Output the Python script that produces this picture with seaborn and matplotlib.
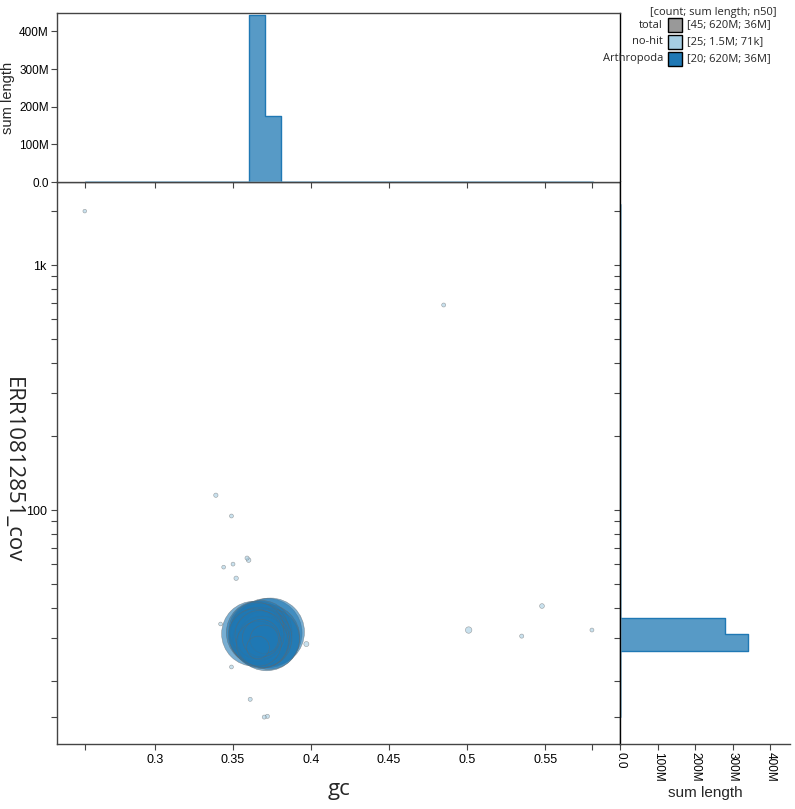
import numpy as np
import pandas as pd
import seaborn as sns
import matplotlib.pyplot as plt
from matplotlib.ticker import FixedLocator, FixedFormatter, NullLocator
from matplotlib.patches import Rectangle

# contigs: gc, coverage, length (bp)
arth_gc = [0.372, 0.374, 0.3715, 0.3635, 0.366, 0.368, 0.373, 0.367, 0.367,
           0.369, 0.366, 0.368, 0.365, 0.364, 0.369, 0.367, 0.3665, 0.368, 0.370, 0.366]
arth_cov = [31.5, 31.8, 30.2, 31.3, 31.6, 32.0, 29.8, 31.4, 30.4,
            30.0, 30.6, 29.5, 32.5, 30.8, 29.0, 30.9, 28.5, 30.0, 29.7, 27.5]
arth_len = [48e6, 46e6, 44e6, 42e6, 40e6, 38e6, 37e6, 36e6, 35e6,
            34e6, 33e6, 32e6, 30e6, 28e6, 26e6, 24e6, 20e6, 14e6, 8e6, 5e6]

nohit_gc = [0.255, 0.485, 0.339, 0.349, 0.359, 0.360, 0.344, 0.350, 0.352, 0.342,
            0.349, 0.397, 0.361, 0.370, 0.372, 0.501, 0.535, 0.548, 0.580,
            0.366, 0.368, 0.365, 0.369, 0.367, 0.366]
nohit_cov = [1660, 687, 115, 94.6, 63.7, 62.5, 58.5, 60.2, 52.7, 34.3,
             22.9, 28.4, 16.9, 14.3, 14.4, 32.4, 30.6, 40.6, 32.4,
             30.5, 30.0, 31.0, 29.5, 30.2, 30.8]
nohit_len = [20e3, 45e3, 71e3, 40e3, 58e3, 95e3, 30e3, 38e3, 80e3, 27e3,
             35e3, 140e3, 52e3, 48e3, 62e3, 300e3, 55e3, 110e3, 42e3,
             68e3, 32e3, 24e3, 15e3, 10e3, 3e3]

gc_ticks = [0.3, 0.35, 0.4, 0.45, 0.5, 0.55]
cov_ticks = [20, 30, 40, 50, 60, 70, 80, 90, 100, 200, 300, 400, 500, 600, 700, 800, 900, 1000]
cov_labels = {100: "100", 1000: "1k"}
len_ticks = [0, 100e6, 200e6, 300e6, 400e6]
len_labels = ["0.0", "100M", "200M", "300M", "400M"]

legend_names = ["total", "no-hit", "Arthropoda"]
legend_stats = ["[45; 620M; 36M]", "[25; 1.5M; 71k]", "[20; 620M; 36M]"]
legend_colors = ["#999999", "#a6cee3", "#1f78b4"]

pal = {"no-hit": "#a6cee3", "Arthropoda": "#1f78b4"}

df = pd.concat([
    pd.DataFrame({"gc": nohit_gc, "cov": nohit_cov, "length": nohit_len, "taxon": "no-hit"}),
    pd.DataFrame({"gc": arth_gc, "cov": arth_cov, "length": arth_len, "taxon": "Arthropoda"}),
], ignore_index=True)

sns.set_style("white")
plt.rcParams["font.family"] = ["Liberation Sans", "DejaVu Sans"]

fig = plt.figure(figsize=(7.95, 8.09), dpi=100)
ax = fig.add_axes([0.0717, 0.0803, 0.7082, 0.6947])
ax_top = fig.add_axes([0.0717, 0.775, 0.7082, 0.2089], sharex=ax)
ax_right = fig.add_axes([0.780, 0.0803, 0.2137, 0.6947], sharey=ax)

# blob scatter, circle area by length
ax.set_yscale("log")
for name in ["no-hit", "Arthropoda"]:
    sub = df[df.taxon == name].sort_values("length", ascending=False)
    sns.scatterplot(data=sub, x="gc", y="cov", size="length", sizes=(6, 2500),
                    size_norm=(0, 48e6), color=pal[name], alpha=0.6,
                    edgecolor="#666666", linewidth=0.4, legend=False, ax=ax)

# histograms of summed length
gc_edges = list(0.255 + 0.0105 * np.arange(32))
cov_edges = list(1.155 + 0.0675 * np.arange(32))  # log10 space
sns.histplot(data=df, x="gc", weights="length", hue="taxon", hue_order=["no-hit", "Arthropoda"],
             palette=pal, bins=gc_edges, element="step", multiple="layer", alpha=0.75,
             linewidth=1, legend=False, ax=ax_top)
sns.histplot(data=df, y="cov", weights="length", hue="taxon", hue_order=["no-hit", "Arthropoda"],
             palette=pal, bins=cov_edges, log_scale=(False, True), element="step",
             multiple="layer", alpha=0.75, linewidth=1, legend=False, ax=ax_right)

ax.set_xlim(0.2372, 0.598)
ax.set_ylim(11.1, 2182)
ax_top.set_ylim(0, 449e6)
ax_right.set_xlim(0, 452e6)

# ticks (outer ticks at data range, unlabelled)
xt = [df.gc.min()] + gc_ticks + [df.gc.max()]
ax.xaxis.set_major_locator(FixedLocator(xt))
ax.xaxis.set_major_formatter(FixedFormatter([""] + [f"{t:g}" for t in gc_ticks] + [""]))
yt = [df["cov"].min()] + cov_ticks + [df["cov"].max()]
ax.yaxis.set_major_locator(FixedLocator(yt))
ax.yaxis.set_major_formatter(FixedFormatter([cov_labels.get(t, "") for t in yt]))
ax.yaxis.set_minor_locator(NullLocator())
ax.xaxis.set_minor_locator(NullLocator())

ax_top.yaxis.set_major_locator(FixedLocator(len_ticks))
ax_top.yaxis.set_major_formatter(FixedFormatter(len_labels))
ax_right.xaxis.set_major_locator(FixedLocator(len_ticks))
ax_right.xaxis.set_major_formatter(FixedFormatter(len_labels))

for a in (ax, ax_top, ax_right):
    a.tick_params(direction="out", length=4, width=0.8, color="#444444",
                  labelsize=9, labelcolor="black", bottom=True, left=True)
    for s in a.spines.values():
        s.set_color("#444444")
        s.set_linewidth(1)
ax_top.tick_params(labelbottom=False)
ax_top.tick_params(axis="y", labelsize=8.5, pad=2)
ax_right.tick_params(labelleft=False)
ax_right.tick_params(axis="x", labelrotation=-90, pad=1.5, labelsize=8.5)
ax_right.spines["top"].set_visible(False)
ax_right.spines["right"].set_visible(False)
ax_right.spines["left"].set_color("black")
ax_top.spines["right"].set_color("black")

big = ["Open Sans", "DejaVu Sans"]
ax.set_xlabel("gc", fontsize=16, family=big, va="baseline")
ax.xaxis.set_label_coords(0.5, -0.0907)
ax.set_ylabel("ERR10812851_cov", fontsize=16, family=big, rotation=270,
              va="center", ha="center")
ax.yaxis.set_label_coords(-0.079, 0.488)
ax_top.set_xlabel("")
ax_top.set_ylabel("sum length", fontsize=10.5)
ax_top.yaxis.set_label_coords(-0.075, 0.5)
ax_right.set_ylabel("")
ax_right.set_xlabel("sum length", fontsize=11)
ax_right.xaxis.set_label_coords(0.5, -0.074)

# legend drawn by hand: name, swatch, stats
W, H = 795, 809
fig.text(650 / W, 1 - 12 / H, "[count; sum length; n50]", fontsize=8, family=big,
         ha="left", va="center")
for i, (nm, st, c) in enumerate(zip(legend_names, legend_stats, legend_colors)):
    yc = 25 + i * 17
    fig.text(663 / W, 1 - yc / H, nm, fontsize=8, family=big, ha="right", va="center")
    fig.patches.append(Rectangle((668 / W, 1 - (yc + 7) / H), 14 / W, 14 / H,
                                 transform=fig.transFigure, facecolor=c,
                                 edgecolor="black", linewidth=1))
    fig.text(687 / W, 1 - yc / H, st, fontsize=8, family=big, ha="left", va="center")

fig.savefig("out.png", dpi=100)
